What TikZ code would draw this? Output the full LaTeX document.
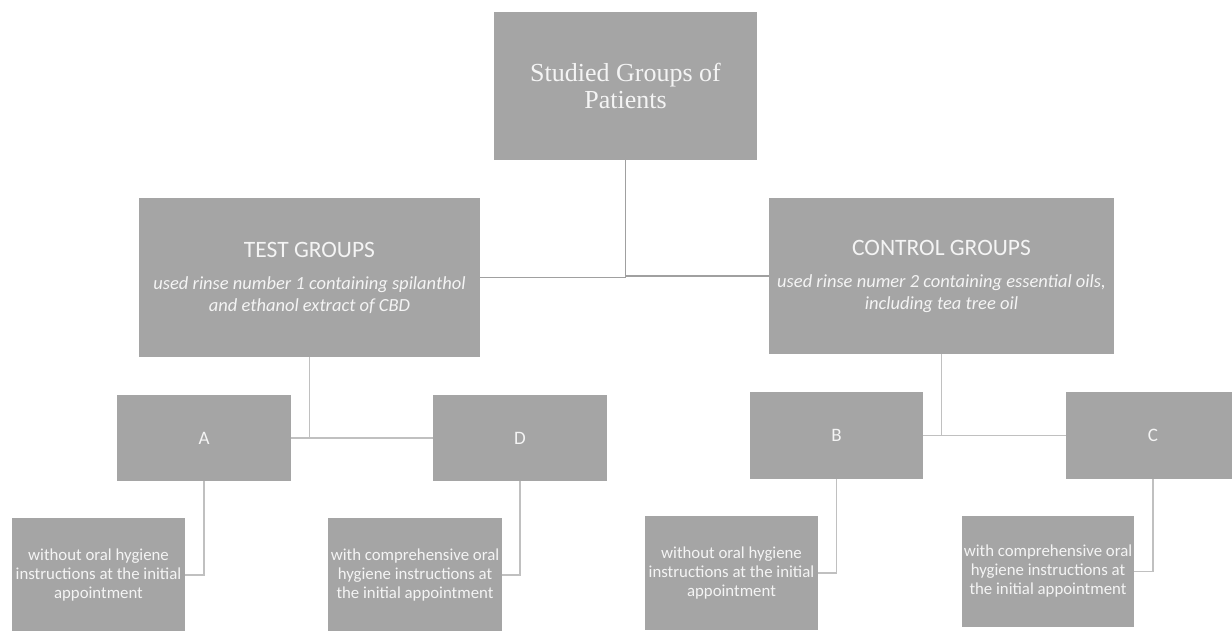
\documentclass[tikz,border=0pt]{standalone}
\usepackage{fontspec}
\setmainfont{Liberation Serif}
\newfontfamily\calfont{Carlito}
\definecolor{boxgray}{HTML}{A5A5A5}
\definecolor{txtwhite}{HTML}{F4F4F4}
\definecolor{linedark}{HTML}{A0A0A0}
\definecolor{linelight}{HTML}{C0C0C0}
\begin{document}
\begin{tikzpicture}[x=1pt,y=-1pt,
  gbox/.style={fill=boxgray,draw=none,inner sep=0pt,text=txtwhite,align=center},
  toplink/.style={draw=linedark,line width=1.4pt},
  sublink/.style={draw=linelight,line width=1.6pt},
  lettfont/.style={font=\calfont\fontsize{19}{22}\selectfont},
  leaffont/.style={font=\calfont\fontsize{16.8}{19}\selectfont}]
\useasboundingbox[fill=white] (0,0) rectangle (1232,631);
\clip (0,0) rectangle (1232,631);
% boxes
\node[gbox,minimum width=263pt,minimum height=148pt,font=\fontsize{26}{27}\selectfont] (top) at (625.5,86) {Studied Groups of\\Patients};
\node[gbox,minimum width=341pt,minimum height=159pt,font=\calfont\fontsize{18.5}{22}\selectfont] (test) at (309.5,277.5)
  {{\fontsize{23.5}{28}\selectfont TEST GROUPS}\\[10pt]\itshape used rinse number 1 containing spilanthol\\\itshape and ethanol extract of CBD};
\node[gbox,minimum width=345pt,minimum height=156pt,font=\calfont\fontsize{18.5}{22}\selectfont] (control) at (941.5,276)
  {{\fontsize{23.5}{28}\selectfont CONTROL GROUPS}\\[10pt]\itshape used rinse numer 2 containing essential oils,\\\itshape including tea tree oil};
\node[gbox,lettfont,minimum width=174pt,minimum height=86pt] (A) at (204,438) {A};
\node[gbox,lettfont,minimum width=174pt,minimum height=86pt] (D) at (520,438) {D};
\node[gbox,lettfont,minimum width=173pt,minimum height=87pt] (B) at (836.5,435.5) {B};
\node[gbox,lettfont,minimum width=174pt,minimum height=87pt] (C) at (1153,435.5) {C};
\node[gbox,leaffont,minimum width=173pt,minimum height=114pt] (b1) at (98.5,575) {without oral hygiene\\instructions at the initial\\appointment};
\node[gbox,leaffont,minimum width=174pt,minimum height=114pt] (b2) at (415,575) {with comprehensive oral\\hygiene instructions at\\the initial appointment};
\node[gbox,leaffont,minimum width=173pt,minimum height=114pt] (b3) at (731.5,573) {without oral hygiene\\instructions at the initial\\appointment};
\node[gbox,leaffont,minimum width=172pt,minimum height=111pt] (b4) at (1048,571.5) {with comprehensive oral\\hygiene instructions at\\the initial appointment};
% connectors
\draw[toplink] (top.south) |- (test.east);
\draw[toplink] (top.south) |- (control.west);
\draw[sublink] (test.south) -- (test.south |- A.east);
\draw[sublink] (A.east) -- (D.west);
\draw[sublink] (control.south) -- (control.south |- B.east);
\draw[sublink] (B.east) -- (C.west);
\draw[sublink] (A.south) |- (b1.east);
\draw[sublink] (D.south) |- (b2.east);
\draw[sublink] (B.south) |- (b3.east);
\draw[sublink] (C.south) |- (b4.east);
\end{tikzpicture}
\end{document}
